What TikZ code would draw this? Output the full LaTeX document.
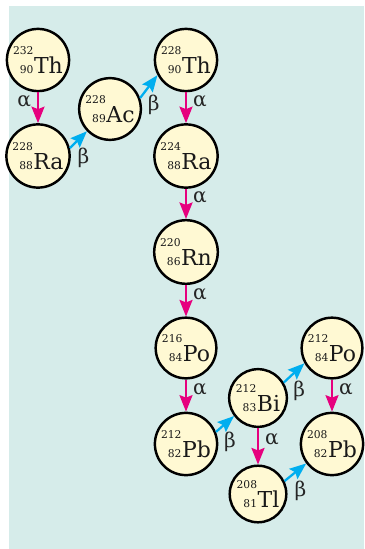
\documentclass[tikz,border=0pt]{standalone}
\usepackage{fontspec}
\setmainfont{DejaVu Serif}
\usepackage{tikz}
\usetikzlibrary{positioning,arrows.meta}
\usepackage{xcolor}
\definecolor{panel}{HTML}{D6ECEA}
\definecolor{nucfill}{HTML}{FFF9D3}
\definecolor{alphacol}{HTML}{E6007E}
\definecolor{betacol}{HTML}{00AEEF}
\newcommand{\nuc}[3]{{\fontsize{6.1}{10.6}\selectfont
  \begin{tabular}[b]{@{}r@{}}#1\\#2\end{tabular}}\kern0.3pt#3}

\begin{document}
\begin{tikzpicture}[
  node distance=1.92cm, on grid,
  nucl/.style={circle, draw, line width=1.4pt, fill=nucfill, minimum size=1.13cm,
    inner sep=0pt, text=black!90, font=\fontsize{12.5}{15}\selectfont},
  adecay/.style={-{Stealth[length=3.3mm,width=2.6mm,inset=0.5mm]}, line width=1.3pt, alphacol},
  bdecay/.style={-{Stealth[length=3.3mm,width=2.6mm,inset=0.5mm]}, line width=1.3pt, betacol},
  lbl/.style={text=black!85, font=\fontsize{11.5}{14}\selectfont},
  blbl/.style={below, xshift=1mm, yshift=-0.3mm}
]
  \useasboundingbox (0,0) rectangle (7.28,-10.98);
  \fill[panel] (0.18,-0.12) rectangle (7.28,-10.98);

  \node[nucl] (th232) at (0.76,-1.2) {\nuc{232}{90}{Th}};
  \node[nucl] (ra228) [below=of th232] {\nuc{228}{88}{Ra}};
  \node[nucl] (ac228) [above right=0.94cm and 1.44cm of ra228] {\nuc{228}{89}{Ac}};
  \node[nucl] (th228) [right=2.96cm of th232] {\nuc{228}{90}{Th}};
  \node[nucl] (ra224) [below=of th228] {\nuc{224}{88}{Ra}};
  \node[nucl] (rn220) [below=of ra224] {\nuc{220}{86}{Rn}};
  \node[nucl] (po216) [below=of rn220] {\nuc{216}{84}{Po}};
  \node[nucl] (pb212) [below=of po216] {\nuc{212}{82}{Pb}};
  \node[nucl] (bi212) [above right=0.92cm and 1.44cm of pb212] {\nuc{212}{83}{Bi}};
  \node[nucl] (tl208) [below=of bi212] {\nuc{208}{81}{Tl}};
  \node[nucl] (po212) [right=2.92cm of po216] {\nuc{212}{84}{Po}};
  \node[nucl] (pb208) [below=of po212] {\nuc{208}{82}{Pb}};

  \draw[adecay] (th232) -- node[lbl, left, pos=0.3] (a1) {α} (ra228);
  \draw[bdecay] (ra228.14) -- node[lbl, blbl] (b1) {β} (ac228.224);
  \draw[bdecay] (ac228.20) -- node[lbl, blbl] (b2) {β} (th228.208);
  \draw[adecay] (th228) -- node[lbl, right, pos=0.3] (a2) {α} (ra224);
  \draw[adecay] (ra224) -- node[lbl, right, pos=0.3] (a3) {α} (rn220);
  \draw[adecay] (rn220) -- node[lbl, right, pos=0.3] (a4) {α} (po216);
  \draw[adecay] (po216) -- node[lbl, right, pos=0.3] (a5) {α} (pb212);
  \draw[bdecay] (pb212.22) -- node[lbl, blbl] (b3) {β} (bi212.217);
  \draw[adecay] (bi212) -- node[lbl, right, pos=0.3] (a6) {α} (tl208);
  \draw[bdecay] (bi212.31) -- node[lbl, blbl] (b4) {β} (po212.209);
  \draw[adecay] (po212) -- node[lbl, right, pos=0.3] (a7) {α} (pb208);
  \draw[bdecay] (tl208.26) -- node[lbl, blbl] (b5) {β} (pb208.217);
\end{tikzpicture}
\end{document}
